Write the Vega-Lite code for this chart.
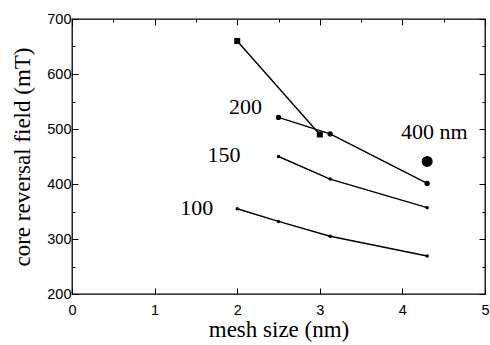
{
  "$schema": "https://vega.github.io/schema/vega-lite/v6.json",
  "width": 413,
  "height": 275,
  "autosize": {"type": "none"},
  "padding": {"left": 72, "top": 19, "right": 5, "bottom": 51},
  "background": "white",
  "config": {
    "view": {"stroke": "black", "strokeWidth": 1.3},
    "axis": {
      "domain": false,
      "tickColor": "black",
      "tickWidth": 1,
      "grid": false,
      "labelFont": "Liberation Sans",
      "labelFontSize": 14.5,
      "labelColor": "black",
      "labelFlush": false,
      "labelOverlap": false,
      "titleFont": "Liberation Serif",
      "titleFontSize": 23,
      "titleFontWeight": "normal",
      "titleColor": "black"
    }
  },
  "data": {
    "values": [
      {"series": "sq", "mesh": 2, "field": 660},
      {"series": "sq", "mesh": 3, "field": 490},
      {"series": "200", "mesh": 2.5, "field": 521},
      {"series": "200", "mesh": 3.125, "field": 491},
      {"series": "200", "mesh": 4.3, "field": 401},
      {"series": "150", "mesh": 2.5, "field": 450},
      {"series": "150", "mesh": 3.125, "field": 409},
      {"series": "150", "mesh": 4.3, "field": 357},
      {"series": "100", "mesh": 2, "field": 355},
      {"series": "100", "mesh": 2.5, "field": 332},
      {"series": "100", "mesh": 3.125, "field": 305},
      {"series": "100", "mesh": 4.3, "field": 269},
      {"series": "400", "mesh": 4.3, "field": 441}
    ]
  },
  "resolve": {"axis": {"x": "independent", "y": "independent"}},
  "layer": [
    {
      "transform": [{"filter": "datum.series !== '400'"}],
      "mark": {"type": "line", "color": "black", "strokeWidth": 1.4},
      "encoding": {
        "x": {
          "field": "mesh", "type": "quantitative",
          "scale": {"domain": [0, 5], "nice": false, "zero": false},
          "axis": {
            "orient": "bottom",
            "title": "mesh size (nm)",
            "format": "d",
            "values": [0, 0.5, 1, 1.5, 2, 2.5, 3, 3.5, 4, 4.5, 5],
            "labelExpr": "datum.value % 1 === 0 ? format(datum.value, 'd') : ''",
            "tickSize": {"condition": {"test": "datum.value % 1 !== 0", "value": -3}, "value": -6},
            "labelPadding": 15,
            "titlePadding": 2
          }
        },
        "y": {
          "field": "field", "type": "quantitative",
          "scale": {"domain": [200, 700], "nice": false, "zero": false},
          "axis": {
            "orient": "left",
            "title": "core reversal field (mT)",
            "format": "d",
            "values": [200, 250, 300, 350, 400, 450, 500, 550, 600, 650, 700],
            "labelExpr": "datum.value % 100 === 0 ? format(datum.value, 'd') : ''",
            "tickSize": {"condition": {"test": "datum.value % 100 !== 0", "value": -3}, "value": -6},
            "labelPadding": 7,
            "titlePadding": 12
          }
        },
        "detail": {"field": "series"}
      }
    },
    {
      "transform": [{"filter": "datum.series === '100' || datum.series === '150'"}],
      "mark": {"type": "circle", "color": "black", "opacity": 1, "size": 12},
      "encoding": {
        "x": {
          "field": "mesh", "type": "quantitative",
          "axis": {
            "orient": "top", "title": null, "labels": false,
            "values": [0, 0.5, 1, 1.5, 2, 2.5, 3, 3.5, 4, 4.5, 5],
            "tickSize": {"condition": {"test": "datum.value % 1 !== 0", "value": -3}, "value": -6}
          }
        },
        "y": {
          "field": "field", "type": "quantitative",
          "axis": {
            "orient": "right", "title": null, "labels": false,
            "values": [200, 250, 300, 350, 400, 450, 500, 550, 600, 650, 700],
            "tickSize": {"condition": {"test": "datum.value % 100 !== 0", "value": -3}, "value": -6}
          }
        }
      }
    },
    {
      "transform": [{"filter": "datum.series === '200'"}],
      "mark": {"type": "circle", "color": "black", "opacity": 1, "size": 28},
      "encoding": {
        "x": {"field": "mesh", "type": "quantitative", "axis": null},
        "y": {"field": "field", "type": "quantitative", "axis": null}
      }
    },
    {
      "transform": [{"filter": "datum.series === 'sq'"}],
      "mark": {"type": "square", "color": "black", "opacity": 1, "size": 36},
      "encoding": {
        "x": {"field": "mesh", "type": "quantitative", "axis": null},
        "y": {"field": "field", "type": "quantitative", "axis": null}
      }
    },
    {
      "transform": [{"filter": "datum.series === '400'"}],
      "mark": {"type": "circle", "color": "black", "opacity": 1, "size": 120},
      "encoding": {
        "x": {"field": "mesh", "type": "quantitative", "axis": null},
        "y": {"field": "field", "type": "quantitative", "axis": null}
      }
    },
    {
      "data": {
        "values": [
          {"text": "200", "mesh": 2.3, "field": 540},
          {"text": "150", "mesh": 2.04, "field": 452},
          {"text": "100", "mesh": 1.71, "field": 356},
          {"text": "400 nm", "mesh": 4.79, "field": 494}
        ]
      },
      "mark": {"type": "text", "align": "right", "baseline": "middle", "font": "Liberation Serif", "fontSize": 22, "color": "black"},
      "encoding": {
        "x": {"field": "mesh", "type": "quantitative", "axis": null},
        "y": {"field": "field", "type": "quantitative", "axis": null},
        "text": {"field": "text"}
      }
    }
  ]
}
